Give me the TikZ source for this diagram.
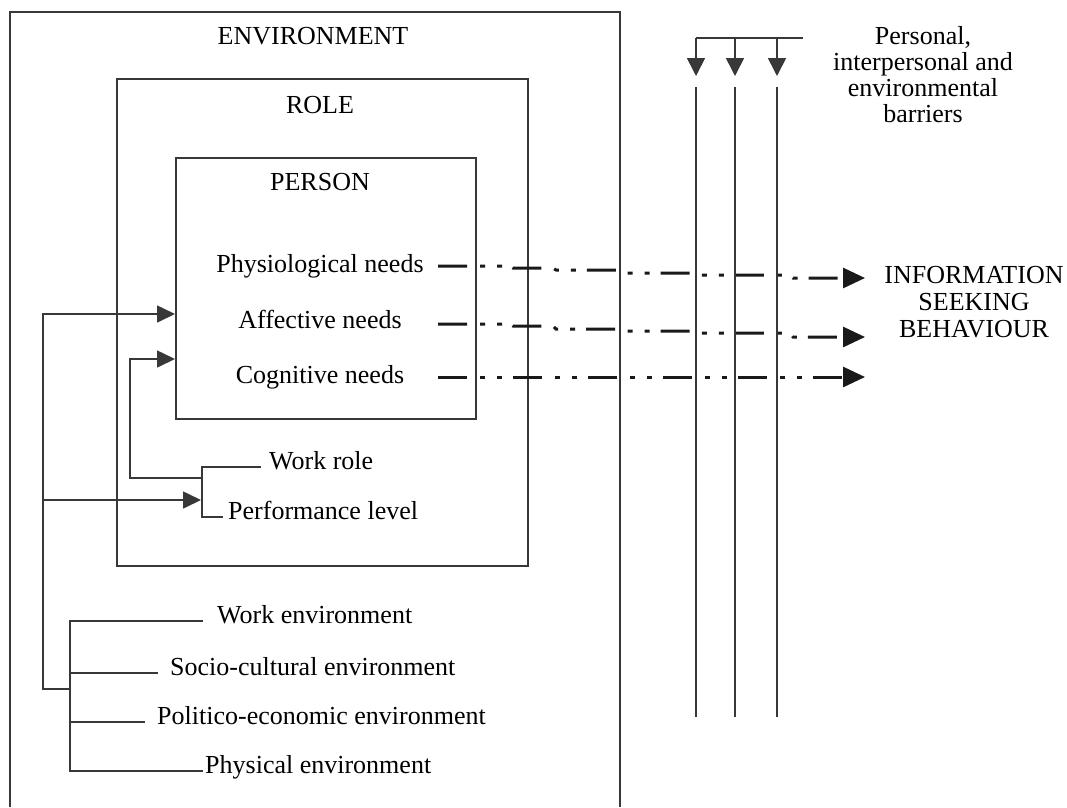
\documentclass[tikz,border=0pt]{standalone}
\usepackage{fontspec}
\setmainfont{Liberation Serif}
\usetikzlibrary{arrows.meta}
\begin{document}
\begin{tikzpicture}[x=1pt,y=-1pt,
  line/.style={draw=black!78, line width=1.6pt},
  lbl/.style={font=\fontsize{26}{25.7}\selectfont, inner sep=0pt, text=black},
  tip/.style={-{Triangle[length=18pt,width=17pt]}},
  flow/.style={line width=3pt, draw=black!90, dash pattern=on 29pt off 13pt on 5pt off 12pt on 5pt off 11pt, -{Triangle[length=22pt,width=20pt]}},
  boxnode/.style={line, rectangle, inner sep=0pt, anchor=north west}
]
\useasboundingbox (0,0) rectangle (1067,807);

% boxes
\draw[line] (10,807) -- (10,12) -- (620,12) -- (620,807);
\node[boxnode, minimum width=411pt, minimum height=487pt] (role) at (116,78) {};
\node[boxnode, minimum width=300pt, minimum height=261pt] (person) at (175,157) {};

% titles
\node[lbl, anchor=base] (envT) at (313,44) {ENVIRONMENT};
\node[lbl, anchor=base] (roleT) at (320,113) {ROLE};
\node[lbl, anchor=base] (personT) at (320,190) {PERSON};

% needs
\node[lbl, anchor=base] (phys) at (320,272) {Physiological needs};
\node[lbl, anchor=base] (aff) at (320,328) {Affective needs};
\node[lbl, anchor=base] (cog) at (320,383) {Cognitive needs};

% role items
\node[lbl, anchor=base west] (wr) at (269,469) {Work role};
\node[lbl, anchor=base west] (pl) at (228,519) {Performance level};

% environment items
\node[lbl, anchor=base west] (we) at (217,623) {Work environment};
\node[lbl, anchor=base west] (sce) at (170,675) {Socio-cultural environment};
\node[lbl, anchor=base west] (pee) at (157,724) {Politico-economic environment};
\node[lbl, anchor=base west] (pe) at (205,773) {Physical environment};

% right texts (anchor base = baseline of last line)
\node[lbl, align=center, anchor=base] (bar) at (923,122) {Personal,\\interpersonal and\\environmental\\barriers};
\node[lbl, font=\fontsize{26}{27}\selectfont, align=center, anchor=base] (isb) at (974,337) {INFORMATION\\SEEKING\\BEHAVIOUR};

% coordinates
\coordinate (pIn1) at (175,314);
\coordinate (pIn2) at (175,359);
\coordinate (plIn) at (201,500);
\coordinate (rJ) at (202,478);
\coordinate (envJ) at (70,689);
\coordinate (lJ) at (43,500);
\coordinate (a1) at (865,278);
\coordinate (a2) at (865,337);
\coordinate (a3) at (865,377);

% role bracket
\draw[line] ([xshift=-8pt]wr.mid west) -| (rJ) |- ([xshift=-5pt]pl.mid west);

% environment bracket
\draw[line] ([xshift=-14pt]we.mid west) -- (we.mid west -| envJ) -- (pe.mid west -| envJ) -- ([xshift=-2pt]pe.mid west);
\draw[line] (sce.mid west -| envJ) -- ([xshift=-12pt]sce.mid west);
\draw[line] (pee.mid west -| envJ) -- ([xshift=-12pt]pee.mid west);

% feedback arrows
\draw[line, tip] (envJ) -| (43,314) -- (pIn1);
\draw[line, tip] (lJ) -- (plIn);
\draw[line, tip] (rJ) -| (130,359) -- (pIn2);

% flows
\draw[flow] (438,266) -- (510,266) -- (513,268) -- (553,268) -- (556,270) -- (617,270) -- (620,273) -- (693,273) -- (696,275) -- (790,275) -- (793,278) -- (a1);
\draw[flow] (438,324) -- (510,324) -- (513,326) -- (553,326) -- (556,329) -- (617,329) -- (620,331) -- (693,331) -- (696,333) -- (790,333) -- (793,337) -- (a2);
\draw[flow] (438,377) -- (a3);

% barriers
\coordinate (bt) at (803,38);
\coordinate (b1) at (696,38);
\coordinate (b2) at (735,38);
\coordinate (b3) at (777,38);
\draw[line] (bt) -- (b1);
\draw[line, -{Triangle[length=18pt,width=18pt]}] (b1) -- (696,76);
\draw[line, -{Triangle[length=18pt,width=18pt]}] (b2) -- (735,76);
\draw[line, -{Triangle[length=18pt,width=18pt]}] (b3) -- (777,76);
\draw[line] (696,87) -- (696,717);
\draw[line] (735,87) -- (735,717);
\draw[line] (777,87) -- (777,717);
\end{tikzpicture}
\end{document}
